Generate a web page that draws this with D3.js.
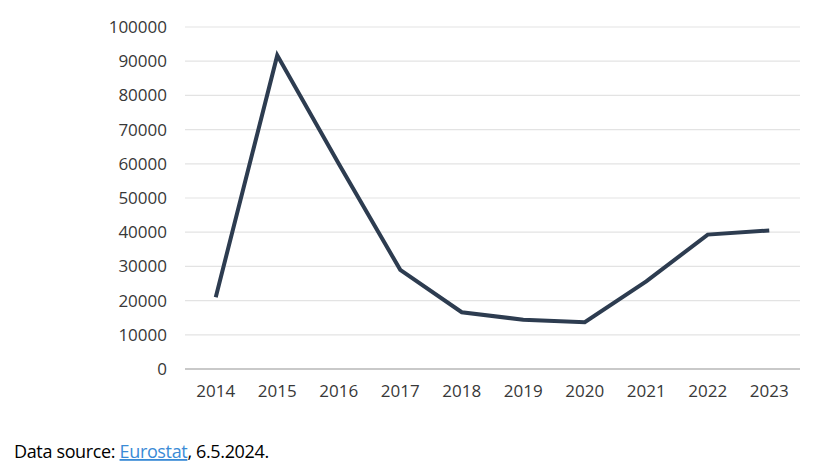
<!DOCTYPE html>
<html><head><meta charset="utf-8">
<script src="https://cdn.jsdelivr.net/npm/d3@7"></script>
<style>body{margin:0;background:#fff;} svg{display:block;}</style>
</head><body>
<svg id="c" width="820" height="472"></svg>
<script>
const years = ["2014","2015","2016","2017","2018","2019","2020","2021","2022","2023"];
const values = [21000, 91700, 60000, 29000, 16600, 14400, 13700, 25600, 39300, 40500];
const yTicks = [0,10000,20000,30000,40000,50000,60000,70000,80000,90000,100000];

(function(){
const svg = d3.select("#c");
const mLeft = 185, mRight = 800, mTop = 27, mBottom = 369;
const x = d3.scaleBand().domain(years).range([mLeft, mRight]);
const y = d3.scaleLinear().domain([0, 100000]).range([mBottom, mTop]);

svg.append("g").selectAll("line").data(yTicks.filter(d => d > 0)).join("line")
  .attr("x1", mLeft).attr("x2", mRight)
  .attr("y1", d => y(d)).attr("y2", d => y(d))
  .attr("stroke", "#e3e3e3").attr("stroke-width", 1.2);

svg.append("line").attr("x1", mLeft).attr("x2", mRight)
  .attr("y1", y(0)).attr("y2", y(0))
  .attr("stroke", "#c9c9c9").attr("stroke-width", 2);

const yAxis = d3.axisLeft(y).tickValues(yTicks).tickFormat(d3.format("d")).tickSize(0).tickPadding(0);
const gy = svg.append("g").attr("transform", `translate(167,0)`).call(yAxis);
gy.select(".domain").remove();
gy.selectAll("text").attr("font-family", "'Open Sans', sans-serif").attr("font-size", 17).attr("fill", "#383838");

const xAxis = d3.axisBottom(x).tickSize(0).tickPadding(0);
const gx = svg.append("g").attr("transform", `translate(0,${mBottom + 16})`).call(xAxis);
gx.select(".domain").remove();
gx.selectAll("text").attr("font-family", "'Open Sans', sans-serif").attr("font-size", 17).attr("fill", "#383838");

const line = d3.line().x((d, i) => x(years[i]) + x.bandwidth() / 2).y(d => y(d));
svg.append("path").datum(values).attr("d", line)
  .attr("fill", "none").attr("stroke", "#2d3c50").attr("stroke-width", 4)
  .attr("stroke-linejoin", "miter");

const foot = svg.append("text").attr("x", 14).attr("y", 458)
  .attr("font-family", "'Open Sans', sans-serif").attr("font-size", 18).attr("fill", "#000")
  .attr("letter-spacing", "-0.35");
foot.append("tspan").text("Data source: ");
foot.append("tspan").text("Eurostat").attr("fill", "#3a8bd6").attr("text-decoration", "underline");
foot.append("tspan").text(", 6.5.2024.");
})();
</script>
</body></html>
